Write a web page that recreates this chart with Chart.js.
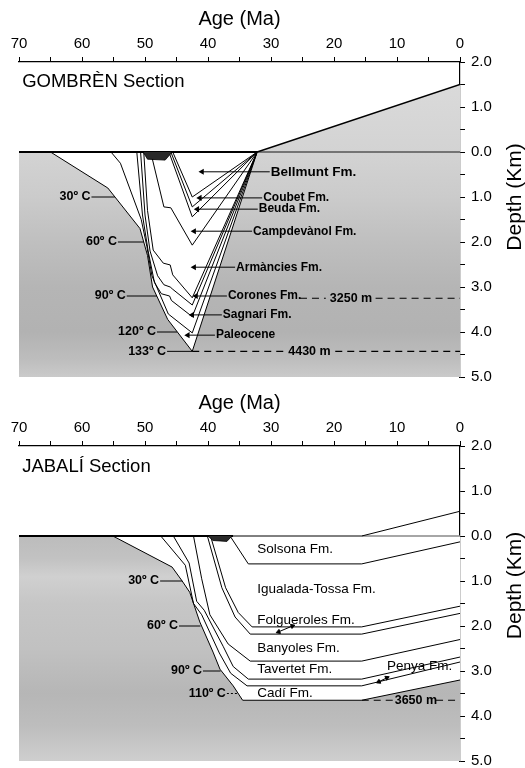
<!DOCTYPE html>
<html>
<head>
<meta charset="utf-8">
<title>Burial history - Gombrèn and Jabalí sections</title>
<style>
body { margin: 0; background: #fff; }
.panel { position: relative; width: 525px; height: 384px; }
</style>
</head>
<body>
<div class="panel"><canvas id="gombren"></canvas></div>
<div class="panel"><canvas id="jabali"></canvas></div>
<script src="https://cdn.jsdelivr.net/npm/chart.js@4.4.0/dist/chart.umd.min.js"></script>
<script>
// all points are [age (Ma), depth (km)], depth negative below datum

// --- GOMBRÈN section ---
const gomSurface = [[70, 0], [32.2, 0], [0, 1.5]];
const gomDatum = [[32.2, 0], [0, 0]];
const gomBellmuntBase = [[45.6, 0], [42.5, -1.0], [32.2, 0]];
const gomCoubetBase = [[45.9, 0], [42.5, -1.22], [32.2, 0]];
const gomBeudaBase = [[46.2, 0], [42.5, -1.44], [32.2, 0]];
const gomCampdevanolBase = [[49.1, 0], [47.0, -1.22], [45.9, -1.24], [42.5, -2.07], [32.2, 0]];
const gomArmanciesBase = [[50.2, 0], [49.6, -1.3], [48.7, -2.18], [47.1, -2.47], [46.0, -2.51], [45.6, -2.73], [42.5, -3.24], [32.2, 0]];
const gomCoronesBase = [[50.7, 0], [50.0, -1.4], [49.2, -2.2], [48.0, -2.75], [47.0, -2.95], [46.0, -3.0], [45.6, -3.05], [42.5, -3.4], [32.2, 0]];
const gomSagnariMid = [[51.3, 0], [50.4, -1.4], [49.5, -2.2], [48.5, -2.9], [47.4, -3.15], [46.1, -3.2], [45.8, -3.3], [42.5, -3.66], [32.2, 0]];
const gomSagnariBase = [[55.4, 0], [53.9, -0.25], [50.6, -1.5], [49.7, -2.1], [48.9, -2.75], [46.3, -3.6], [42.5, -4.02], [32.2, 0]];
const gomPaleoceneBase = [[65, 0], [55.9, -0.8], [50.8, -1.7], [49.6, -2.3], [48.8, -3.0], [46.4, -3.72], [42.5, -4.43], [32.2, 0]];
const gomLens = [[50.3, 0], [49.6, -0.16], [46.8, -0.18], [46.0, -0.05], [45.8, 0]];
const gomLine3250 = [[25.4, -3.25], [21.3, -3.25], [17, null], [13.4, -3.25], [0, -3.25]];
const gomLine4430 = [[42.5, -4.43], [27.8, -4.43], [24, null], [19.8, -4.43], [0, -4.43]];

const gomFmNames = ['Bellmunt Fm.', 'Coubet Fm.', 'Beuda Fm.', 'Campdevànol Fm.', 'Armàncies Fm.', 'Corones Fm.', 'Sagnari Fm.', 'Paleocene'];
const gomFmDepth = [-0.44, -1.02, -1.27, -1.76, -2.56, -3.2, -3.62, -4.07];
const gomFmArrowAge = [40.95, 41.3, 41.7, 42.2, 42.2, 41.9, 42.5, 43.2];
const gomFmTextAge = [30.2, 31.4, 32.1, 33.0, 35.7, 37.0, 37.8, 38.9];

const gomIsoNames = ['30º C', '60º C', '90º C', '120º C', '133º C'];
const gomIsoDepth = [-1.0, -2.0, -3.2, -4.0, -4.43];
const gomIsoTextAge = [58.5, 54.3, 52.9, 48.1, 46.5];
const gomIsoEndAge = [54.8, 50.2, 48.1, 44.9, 42.5];

const gomDepthNotes = [['3250 m', 17.3, -3.25], ['4430 m', 23.9, -4.43]];

// --- JABALÍ section ---
const jabSurface = [[70, 0], [36, 0]];
const jabTop = [[36, 0], [15.6, 0], [0, 0.55]];
const jabDatum = [[15.6, 0], [0, 0]];
const jabSolsonaBase = [[36.5, 0], [33.6, -0.62], [15.6, -0.62], [0, -0.13]];
const jabIgualadaBase = [[39.6, 0], [37.2, -1.15], [35.2, -1.7], [33.0, -2.02], [15.6, -2.02], [0, -1.56]];
const jabFolguerolesBase = [[40.1, 0], [37.8, -1.15], [35.7, -1.8], [33.3, -2.18], [15.6, -2.18], [0, -1.72]];
const jabBanyolesBase = [[42.3, 0], [41.0, -0.95], [39.7, -1.75], [36.8, -2.4], [33.3, -2.78], [15.6, -2.78], [0, -2.3]];
const jabTavertetBase = [[45.5, 0], [43.0, -0.6], [41.8, -1.45], [40.6, -1.65], [37.6, -2.45], [36.0, -2.9], [33.6, -3.18], [15.6, -3.18], [0, -2.69]];
const jabPenyaBase = [[47.5, 0], [43.6, -0.65], [42.3, -1.5], [41.0, -1.75], [38.2, -2.6], [36.4, -3.05], [33.8, -3.33], [15.6, -3.33], [0, -2.8]];
const jabCadiBase = [[55.1, 0], [45.7, -0.69], [44.1, -1.0], [42.9, -1.25], [41.3, -1.91], [39.2, -2.58], [38.1, -2.96], [36.0, -3.33], [34.5, -3.65], [15.6, -3.65], [0, -3.2]];
const jabLens = [[40.0, 0], [39.2, -0.1], [37.0, -0.12], [36.2, 0]];
const jabLine3650 = [[15.6, -3.65], [10.3, -3.65], [7, null], [3.8, -3.65], [0, -3.65]];
const jabFolgArrow = [[28.8, -2.13], [26.6, -2.0]];
const jabPenyaArrow = [[12.9, -3.24], [11.6, -3.15]];

const jabFmNames = ['Solsona Fm.', 'Igualada-Tossa Fm.', 'Folgueroles Fm.', 'Banyoles Fm.', 'Tavertet Fm.', 'Cadí Fm.'];
const jabFmDepth = [-0.3, -1.18, -1.87, -2.49, -2.96, -3.5];
const jabFmTextAge = 32.2;
const jabPenya = ['Penya Fm.', 11.6, -2.9];

const jabIsoNames = ['30º C', '60º C', '90º C', '110º C'];
const jabIsoDepth = [-1.0, -2.0, -3.0, -3.5];
const jabIsoTextAge = [47.6, 44.6, 40.8, 37.0];
const jabIsoEndAge = [44.1, 41.2, 38.0, 35.2];

const jabDepthNotes = [['3650 m', 7.0, -3.65]];

const FONT = '"Liberation Sans", Arial, Helvetica, sans-serif';
Chart.defaults.font.family = FONT;
Chart.defaults.color = '#000';

// draws the free text of the figure at data coordinates
const notesPlugin = {
  id: 'notes',
  afterDatasetsDraw(chart, args, opts) {
    const {ctx} = chart;
    const xs = chart.scales.x, ys = chart.scales.y;
    ctx.save();
    ctx.fillStyle = '#000';
    ctx.textBaseline = 'middle';
    for (const n of opts.items) {
      ctx.font = n.font;
      ctx.textAlign = n.align || 'left';
      const px = n.axisOffset !== undefined ? ys.right - n.axisOffset : xs.getPixelForValue(n.x) + (n.dx || 0);
      const py = ys.getPixelForValue(n.y);
      if (n.rotate) {
        ctx.save();
        ctx.translate(px, py);
        ctx.rotate(n.rotate);
        ctx.fillText(n.text, 0, 0);
        ctx.restore();
      } else {
        ctx.fillText(n.text, px, py);
      }
    }
    ctx.restore();
  }
};

function pts(a) {
  return a.map(p => ({x: p[0], y: p[1]}));
}

function lineDs(a, extra) {
  return Object.assign({
    data: pts(a), showLine: true, pointRadius: 0, borderColor: '#000',
    borderWidth: 1, fill: false, order: 10, tension: 0
  }, extra);
}

function arrowDs(tip, end, depth) {
  return lineDs([[tip, depth], [end, depth]], {
    pointRadius: [3.5, 0], pointStyle: 'triangle', pointRotation: 270,
    pointBackgroundColor: '#000', pointBorderColor: '#000', pointBorderWidth: 0, order: 6
  });
}

function grayFill(stops) {
  return function (c) {
    const chart = c.chart;
    const ys = chart.scales && chart.scales.y;
    if (!chart.chartArea || !ys) return '#c4c4c4';
    const top = ys.getPixelForValue(2), bot = ys.getPixelForValue(-5);
    const g = chart.ctx.createLinearGradient(0, top, 0, bot);
    for (const s of stops) g.addColorStop((ys.getPixelForValue(s[0]) - top) / (bot - top), s[1]);
    return g;
  };
}

function makeChart(id, datasets, items) {
  return new Chart(document.getElementById(id), {
    type: 'scatter',
    data: { datasets },
    options: {
      responsive: true,
      maintainAspectRatio: false,
      animation: false,
      events: [],
      layout: { padding: { left: 19, right: 0, top: 0, bottom: 7 } },
      plugins: { legend: { display: false }, tooltip: { enabled: false }, notes: { items } },
      scales: {
        x: {
          type: 'linear', position: 'top', reverse: true, min: 0, max: 70,
          afterFit: s => { s.height = 62; s.paddingLeft = 0; s.paddingRight = 0; },
          ticks: {
            stepSize: 5, autoSkip: false, maxRotation: 0, padding: 4,
            font: { size: 15 }, color: '#000',
            callback: v => (v % 10 === 0 ? String(v) : '')
          },
          grid: { drawOnChartArea: false, tickLength: 5, color: '#000', lineWidth: 1 },
          border: { display: true, color: '#000', width: 1.2 },
          title: { display: true, text: 'Age (Ma)', font: { size: 20 }, color: '#000', padding: { top: 7, bottom: 0 } }
        },
        y: {
          type: 'linear', position: 'right', min: -5, max: 2,
          afterFit: s => { s.width = 65; s.paddingTop = 0; s.paddingBottom = 0; },
          ticks: {
            stepSize: 0.5, autoSkip: false, padding: 6,
            font: { size: 15 }, color: '#000',
            callback: v => (Math.abs(v % 1) < 1e-9 ? Math.abs(v).toFixed(1) : '')
          },
          grid: { drawOnChartArea: false, tickLength: 5, color: '#000', lineWidth: 1 },
          border: { display: true, color: '#000', width: 1.2 }
        }
      }
    },
    plugins: [notesPlugin]
  });
}

// ---------- GOMBRÈN chart ----------
const gomDatasets = [
  lineDs(gomSurface, { borderWidth: 0, fill: 'start', order: 100,
    backgroundColor: grayFill([[2, '#dedede'], [1.5, '#dadada'], [0, '#d3d3d3'], [-1, '#cbcbcb'], [-2, '#bfbfbf'], [-3, '#b5b5b5'], [-4, '#b2b2b2'], [-4.6, '#bdbdbd'], [-5, '#cacaca']]) }),
  lineDs(gomPaleoceneBase, { fill: 'origin', backgroundColor: '#fff', order: 50 }),
  lineDs(gomLens, { fill: 'origin', backgroundColor: '#2a2a2a', borderWidth: 0.8, order: 5 }),
  lineDs(gomDatum, { borderColor: '#555', borderWidth: 1.5, order: 9 }),
  lineDs(gomSurface, { borderWidth: 1.6, order: 8 }),
  lineDs([[70, 0], [32.2, 0]], { borderWidth: 2.2, order: 7 }),
  lineDs(gomBellmuntBase),
  lineDs(gomCoubetBase),
  lineDs(gomBeudaBase),
  lineDs(gomCampdevanolBase),
  lineDs(gomArmanciesBase),
  lineDs(gomCoronesBase),
  lineDs(gomSagnariMid),
  lineDs(gomSagnariBase),
  lineDs(gomLine3250, { borderDash: [7, 5], borderWidth: 1 }),
  lineDs(gomLine4430, { borderDash: [7, 5], borderWidth: 1.2 })
];
gomFmNames.forEach((n, i) => gomDatasets.push(arrowDs(gomFmArrowAge[i], gomFmTextAge[i], gomFmDepth[i])));
gomIsoNames.forEach((n, i) => gomDatasets.push(lineDs([[gomIsoTextAge[i], gomIsoDepth[i]], [gomIsoEndAge[i], gomIsoDepth[i]]], { order: 6 })));

const gomItems = [
  { text: 'GOMBRÈN Section', x: 69.5, y: 1.56, font: '18.5px ' + FONT },
  { text: 'Depth (Km)', axisOffset: 10, y: -1.0, rotate: -Math.PI / 2, align: 'center', font: '21px ' + FONT }
];
gomFmNames.forEach((n, i) => gomItems.push({ text: n, x: gomFmTextAge[i], y: gomFmDepth[i], dx: 1,
  font: (i === 0 ? 'bold 13.5px ' : 'bold 12px ') + FONT }));
gomIsoNames.forEach((n, i) => gomItems.push({ text: n, x: gomIsoTextAge[i], y: gomIsoDepth[i], dx: -1, align: 'right', font: 'bold 12.5px ' + FONT }));
gomDepthNotes.forEach(d => gomItems.push({ text: d[0], x: d[1], y: d[2], align: 'center', font: 'bold 12.5px ' + FONT }));

makeChart('gombren', gomDatasets, gomItems);

// ---------- JABALÍ chart ----------
const jabDatasets = [
  lineDs([[70, 0], [0, 0]], { borderWidth: 0, fill: 'start', order: 100,
    backgroundColor: grayFill([[0, '#bcbcbc'], [-0.5, '#c2c2c2'], [-0.9, '#d0d0d0'], [-1.5, '#c6c6c6'], [-2.5, '#c1c1c1'], [-3.5, '#b6b6b6'], [-4.2, '#bdbdbd'], [-5, '#cfcfcf']]) }),
  lineDs(jabCadiBase, { fill: 'origin', backgroundColor: '#fff', order: 50 }),
  lineDs(jabLens, { fill: 'origin', backgroundColor: '#2a2a2a', borderWidth: 0.8, order: 5 }),
  lineDs(jabDatum, { borderColor: '#888', borderWidth: 1.5, order: 9 }),
  lineDs(jabTop, { borderWidth: 1, order: 8 }),
  lineDs(jabSurface, { borderWidth: 2.2, order: 7 }),
  lineDs(jabSolsonaBase),
  lineDs(jabIgualadaBase),
  lineDs(jabFolguerolesBase),
  lineDs(jabBanyolesBase),
  lineDs(jabTavertetBase),
  lineDs(jabPenyaBase),
  lineDs(jabLine3650, { borderDash: [7, 5], borderWidth: 1 }),
  lineDs(jabFolgArrow, { pointRadius: [2.5, 2.5], pointStyle: 'triangle', pointRotation: [250, 70], pointBackgroundColor: '#000', order: 6 }),
  lineDs(jabPenyaArrow, { pointRadius: [2.5, 2.5], pointStyle: 'triangle', pointRotation: [245, 65], pointBackgroundColor: '#000', order: 6 })
];
jabIsoNames.forEach((n, i) => jabDatasets.push(lineDs([[jabIsoTextAge[i], jabIsoDepth[i]], [jabIsoEndAge[i], jabIsoDepth[i]]],
  { order: 6, borderDash: i === 3 ? [2, 2] : [] })));

const jabItems = [
  { text: 'JABALÍ Section', x: 69.5, y: 1.53, font: '18.5px ' + FONT },
  { text: 'Depth (Km)', axisOffset: 10, y: -1.1, rotate: -Math.PI / 2, align: 'center', font: '21px ' + FONT },
  { text: jabPenya[0], x: jabPenya[1], y: jabPenya[2], font: '13.5px ' + FONT }
];
jabFmNames.forEach((n, i) => jabItems.push({ text: n, x: jabFmTextAge, y: jabFmDepth[i], font: '13.5px ' + FONT }));
jabIsoNames.forEach((n, i) => jabItems.push({ text: n, x: jabIsoTextAge[i], y: jabIsoDepth[i], dx: -1, align: 'right', font: 'bold 12.5px ' + FONT }));
jabDepthNotes.forEach(d => jabItems.push({ text: d[0], x: d[1], y: d[2], align: 'center', font: 'bold 12.5px ' + FONT }));

makeChart('jabali', jabDatasets, jabItems);
</script>
</body>
</html>
